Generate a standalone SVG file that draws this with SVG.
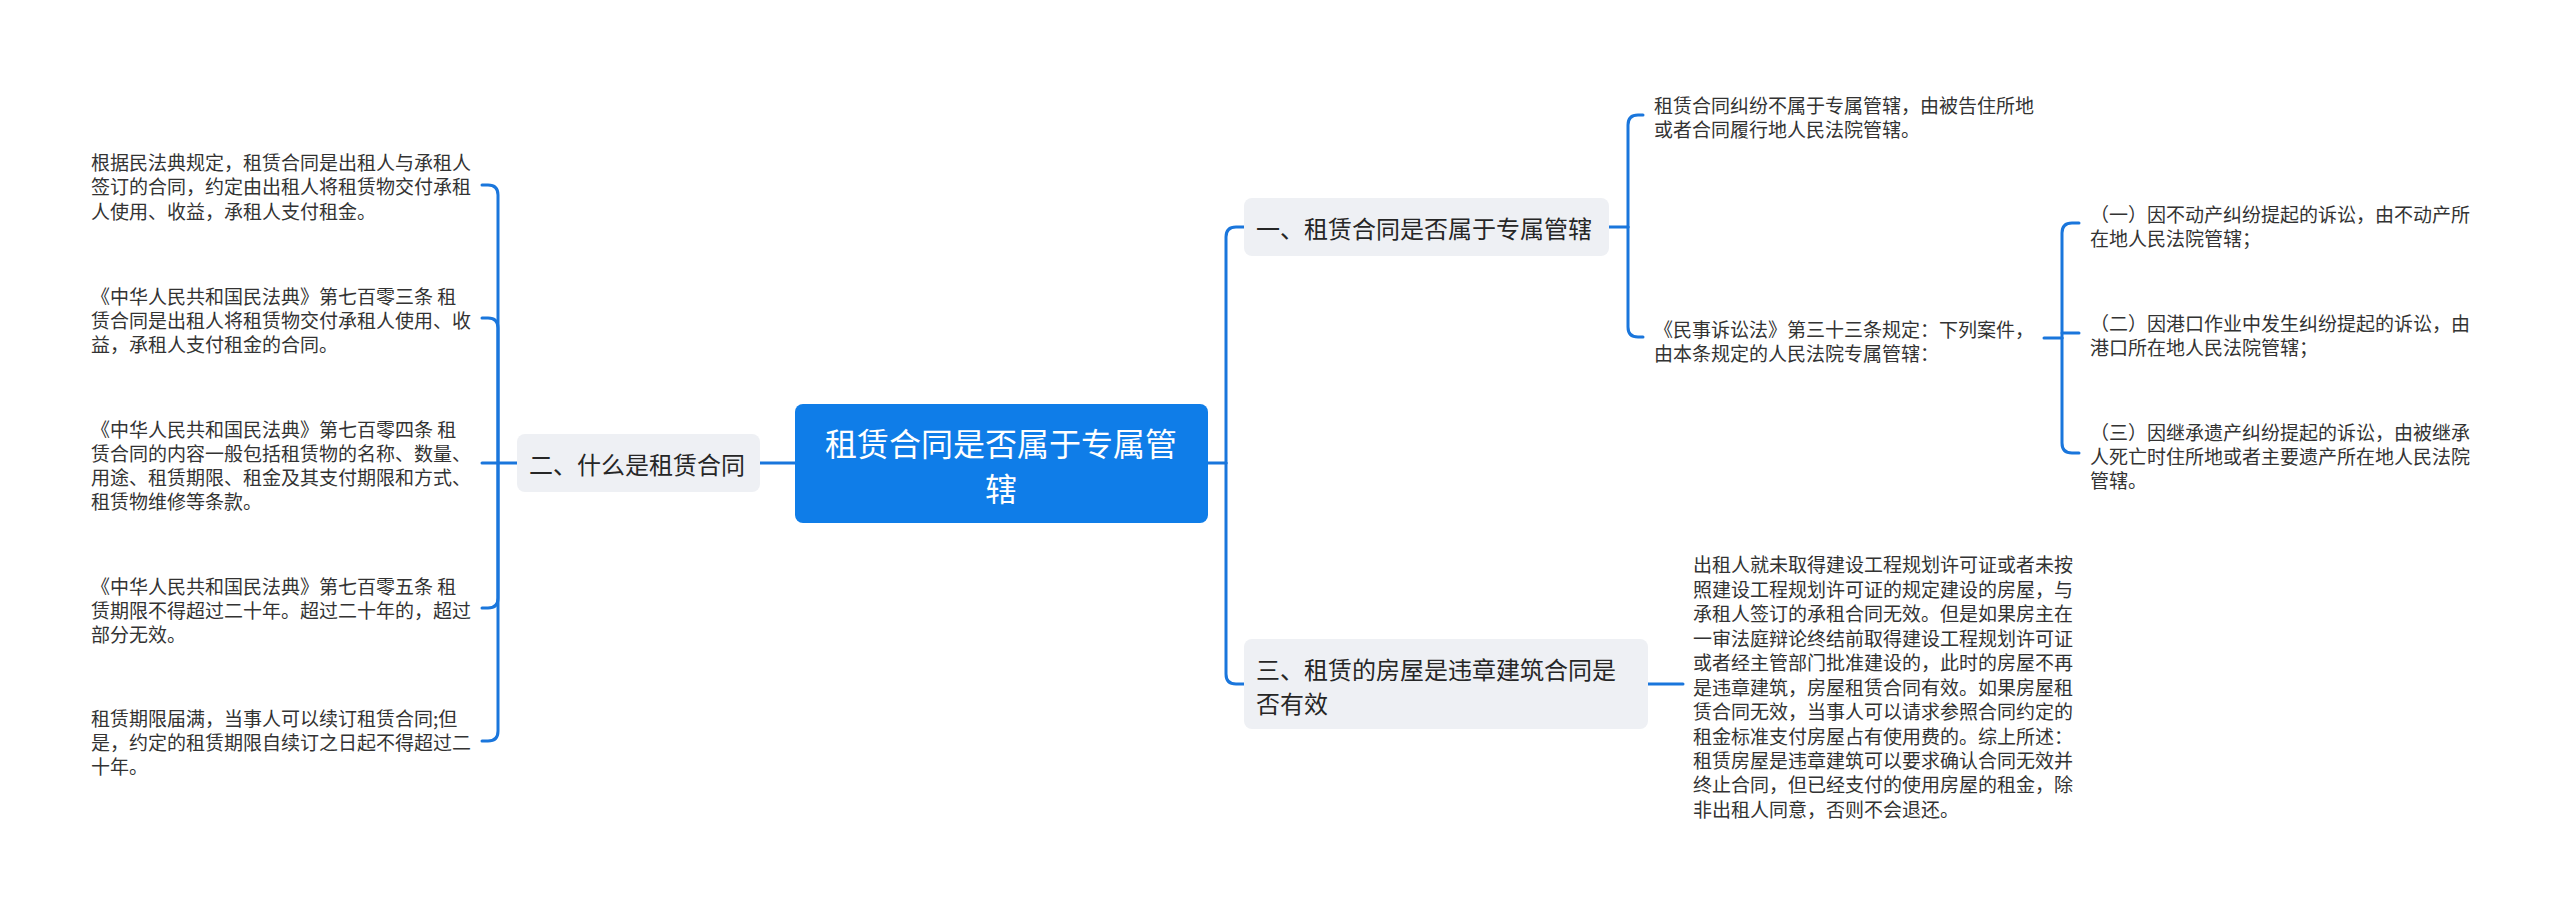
<svg xmlns="http://www.w3.org/2000/svg" width="2560" height="909" viewBox="0 0 2560 909">
<style>
text{font-family:"Noto Sans CJK SC","Noto Sans",sans-serif;dominant-baseline:central}
.leaf{font-size:19px;fill:#333333}
.l1{font-size:24px;fill:#262626}
.root{font-size:32px;fill:#ffffff;text-anchor:middle}
.n1{fill:#eef0f4}
.c{fill:none;stroke:#1a76dc;stroke-width:3;stroke-linecap:round;stroke-linejoin:round}
</style>
<rect width="2560" height="909" fill="#ffffff"/>
<g id="connectors">
<path class="c" d="M795,463 H759"/>
<path class="c" d="M517,463 H482"/>
<path class="c" d="M498,463 V195 Q498,185 488,185 H482"/>
<path class="c" d="M498,463 V328 Q498,318 488,318 H482"/>
<path class="c" d="M498,463 V598 Q498,608 488,608 H482"/>
<path class="c" d="M498,463 V731 Q498,741 488,741 H482"/>
<path class="c" d="M1208,463 H1226"/>
<path class="c" d="M1226,463 V237 Q1226,227 1236,227 H1244"/>
<path class="c" d="M1226,463 V674 Q1226,684 1236,684 H1244"/>
<path class="c" d="M1609,227 H1628"/>
<path class="c" d="M1628,227 V125 Q1628,115 1638,115 H1643"/>
<path class="c" d="M1628,227 V327 Q1628,337 1638,337 H1643"/>
<path class="c" d="M2044,338 H2062"/>
<path class="c" d="M2062,338 V233 Q2062,223 2072,223 H2079"/>
<path class="c" d="M2062,333 H2079"/>
<path class="c" d="M2062,338 V443 Q2062,453 2072,453 H2079"/>
<path class="c" d="M1648,684 H1683"/>
</g>
<g id="root">
<rect x="795" y="404" width="413" height="119" rx="8" fill="#0f7de8"/>
<text class="root" x="1001" y="442">租赁合同是否属于专属管</text>
<text class="root" x="1001" y="487">辖</text>
</g>
<g id="n2">
<rect class="n1" x="517" y="434" width="243" height="58" rx="8"/>
<text class="l1" x="529" y="463">二、什么是租赁合同</text>
</g>
<g id="n1">
<rect class="n1" x="1244" y="198" width="365" height="58" rx="8"/>
<text class="l1" x="1256" y="227">一、租赁合同是否属于专属管辖</text>
</g>
<g id="n3">
<rect class="n1" x="1244" y="639" width="404" height="90" rx="8"/>
<text class="l1" x="1256" y="668">三、租赁的房屋是违章建筑合同是</text>
<text class="l1" x="1256" y="702">否有效</text>
</g>
<g id="l2a">
<text class="leaf" x="91" y="161">根据民法典规定，租赁合同是出租人与承租人</text>
<text class="leaf" x="91" y="185">签订的合同，约定由出租人将租赁物交付承租</text>
<text class="leaf" x="91" y="210">人使用、收益，承租人支付租金。</text>
</g>
<g id="l2b">
<text class="leaf" x="91" y="295">《中华人民共和国民法典》第七百零三条 租</text>
<text class="leaf" x="91" y="319">赁合同是出租人将租赁物交付承租人使用、收</text>
<text class="leaf" x="91" y="343">益，承租人支付租金的合同。</text>
</g>
<g id="l2c">
<text class="leaf" x="91" y="428">《中华人民共和国民法典》第七百零四条 租</text>
<text class="leaf" x="91" y="452">赁合同的内容一般包括租赁物的名称、数量、</text>
<text class="leaf" x="91" y="476">用途、租赁期限、租金及其支付期限和方式、</text>
<text class="leaf" x="91" y="500">租赁物维修等条款。</text>
</g>
<g id="l2d">
<text class="leaf" x="91" y="585">《中华人民共和国民法典》第七百零五条 租</text>
<text class="leaf" x="91" y="609">赁期限不得超过二十年。超过二十年的，超过</text>
<text class="leaf" x="91" y="633">部分无效。</text>
</g>
<g id="l2e">
<text class="leaf" x="91" y="717">租赁期限届满，当事人可以续订租赁合同;但</text>
<text class="leaf" x="91" y="741">是，约定的租赁期限自续订之日起不得超过二</text>
<text class="leaf" x="91" y="765">十年。</text>
</g>
<g id="l1a">
<text class="leaf" x="1654" y="104">租赁合同纠纷不属于专属管辖，由被告住所地</text>
<text class="leaf" x="1654" y="128">或者合同履行地人民法院管辖。</text>
</g>
<g id="l1b">
<text class="leaf" x="1654" y="328">《民事诉讼法》第三十三条规定：下列案件，</text>
<text class="leaf" x="1654" y="352">由本条规定的人民法院专属管辖：</text>
</g>
<g id="l1b1">
<text class="leaf" x="2090" y="213">（一）因不动产纠纷提起的诉讼，由不动产所</text>
<text class="leaf" x="2090" y="237">在地人民法院管辖；</text>
</g>
<g id="l1b2">
<text class="leaf" x="2090" y="322">（二）因港口作业中发生纠纷提起的诉讼，由</text>
<text class="leaf" x="2090" y="346">港口所在地人民法院管辖；</text>
</g>
<g id="l1b3">
<text class="leaf" x="2090" y="431">（三）因继承遗产纠纷提起的诉讼，由被继承</text>
<text class="leaf" x="2090" y="455">人死亡时住所地或者主要遗产所在地人民法院</text>
<text class="leaf" x="2090" y="479">管辖。</text>
</g>
<g id="l3a">
<text class="leaf" x="1693" y="563">出租人就未取得建设工程规划许可证或者未按</text>
<text class="leaf" x="1693" y="588">照建设工程规划许可证的规定建设的房屋，与</text>
<text class="leaf" x="1693" y="612">承租人签订的承租合同无效。但是如果房主在</text>
<text class="leaf" x="1693" y="637">一审法庭辩论终结前取得建设工程规划许可证</text>
<text class="leaf" x="1693" y="661">或者经主管部门批准建设的，此时的房屋不再</text>
<text class="leaf" x="1693" y="686">是违章建筑，房屋租赁合同有效。如果房屋租</text>
<text class="leaf" x="1693" y="710">赁合同无效，当事人可以请求参照合同约定的</text>
<text class="leaf" x="1693" y="735">租金标准支付房屋占有使用费的。综上所述：</text>
<text class="leaf" x="1693" y="759">租赁房屋是违章建筑可以要求确认合同无效并</text>
<text class="leaf" x="1693" y="783">终止合同，但已经支付的使用房屋的租金，除</text>
<text class="leaf" x="1693" y="808">非出租人同意，否则不会退还。</text>
</g>
</svg>
